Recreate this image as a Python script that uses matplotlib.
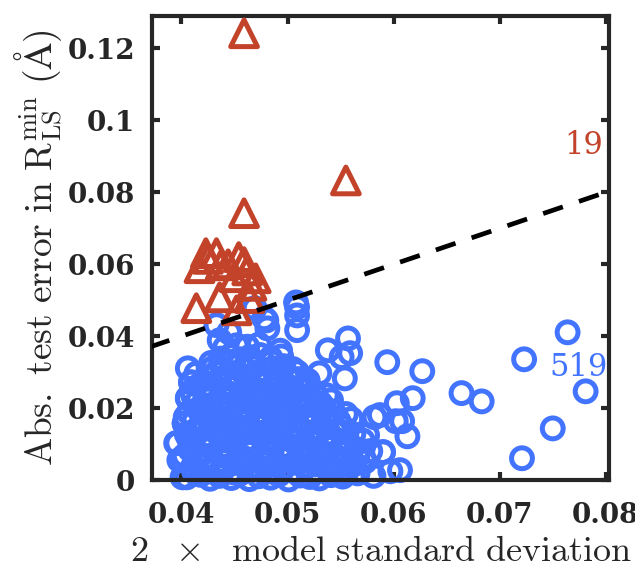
import matplotlib
matplotlib.use('Agg')
import matplotlib.pyplot as plt
from matplotlib.ticker import FuncFormatter

plt.rcParams['mathtext.fontset'] = 'cm'
plt.rcParams['font.family'] = 'serif'

# red triangles: above the line (19 points)
tri_x = [0.0459, 0.0555, 0.0459, 0.0423, 0.0433, 0.0417, 0.0454, 0.0459, 0.0437,
         0.0462, 0.0470, 0.0450, 0.0436, 0.0414, 0.0452, 0.0464, 0.0444, 0.0466,
         0.0425]
tri_y = [0.1242, 0.0833, 0.0742, 0.0631, 0.0631, 0.0589, 0.0620, 0.0606, 0.0597,
         0.0583, 0.0561, 0.0564, 0.0508, 0.0478, 0.0472, 0.0506, 0.0600, 0.0540,
         0.0615]

# blue circles: below the line (519 points in the original)
circ_x = [
    # outliers
    0.0764, 0.0723, 0.0781, 0.0750, 0.0721, 0.0664, 0.0683, 0.0627, 0.0594, 0.0618,
    0.0603, 0.0608, 0.0613, 0.0606, 0.0590, 0.0587, 0.0509, 0.0509, 0.0509, 0.0538,
    0.0557, 0.0551, 0.0559, 0.0554, 0.0530, 0.0537, 0.0433, 0.0445, 0.0406, 0.0409,
    0.0480, 0.0481, 0.0469, 0.0436, 0.0582, 0.0602, 0.0575, 0.0567, 0.0555, 0.0563,
    0.0406, 0.0403, 0.0395, 0.0398, 0.0401, 0.0508, 0.0478, 0.0493,
    # dense cloud
    0.0405, 0.0418, 0.0427, 0.0436, 0.0447, 0.0455, 0.0464, 0.0473, 0.0484, 0.0492,
    0.0501, 0.0512, 0.0521, 0.0530, 0.0541, 0.0552, 0.0566, 0.0581, 0.0597,
    0.0411, 0.0422, 0.0433, 0.0441, 0.0451, 0.0460, 0.0469, 0.0479, 0.0488, 0.0497,
    0.0507, 0.0517, 0.0526, 0.0536, 0.0546, 0.0558, 0.0573, 0.0590,
    0.0403, 0.0415, 0.0426, 0.0437, 0.0445, 0.0456, 0.0465, 0.0476, 0.0485, 0.0494,
    0.0503, 0.0514, 0.0523, 0.0533, 0.0543, 0.0554, 0.0566, 0.0578,
    0.0396, 0.0409, 0.0420, 0.0430, 0.0440, 0.0449, 0.0459, 0.0468, 0.0478, 0.0487,
    0.0497, 0.0506, 0.0516, 0.0525, 0.0535, 0.0546, 0.0557, 0.0571,
    0.0405, 0.0414, 0.0424, 0.0434, 0.0443, 0.0453, 0.0462, 0.0472, 0.0481, 0.0491,
    0.0500, 0.0510, 0.0520, 0.0529, 0.0539, 0.0550, 0.0562,
    0.0403, 0.0412, 0.0422, 0.0431, 0.0441, 0.0450, 0.0460, 0.0469, 0.0479, 0.0488,
    0.0498, 0.0507, 0.0517, 0.0527, 0.0537, 0.0548, 0.0560,
    0.0407, 0.0417, 0.0427, 0.0436, 0.0446, 0.0455, 0.0465, 0.0474, 0.0484, 0.0493,
    0.0503, 0.0512, 0.0522, 0.0532, 0.0543, 0.0555,
    0.0406, 0.0415, 0.0425, 0.0434, 0.0444, 0.0453, 0.0463, 0.0472, 0.0482, 0.0491,
    0.0501, 0.0510, 0.0520, 0.0531, 0.0541,
    0.0410, 0.0420, 0.0429, 0.0439, 0.0448, 0.0458, 0.0467, 0.0477, 0.0486, 0.0496,
    0.0505, 0.0515, 0.0525,
    0.0409, 0.0425, 0.0435, 0.0444, 0.0453, 0.0462, 0.0472, 0.0481, 0.0491, 0.0500,
    0.0510, 0.0519,
    0.0430, 0.0440, 0.0449, 0.0458, 0.0467, 0.0477, 0.0486, 0.0496, 0.0505,
    0.0437, 0.0446, 0.0455, 0.0464, 0.0474, 0.0484, 0.0494,
    0.0441, 0.0452, 0.0462, 0.0473,
    # extra cloud points in between rows
    0.0412, 0.0431, 0.0450, 0.0468, 0.0487, 0.0505, 0.0524, 0.0544,
    0.0408, 0.0428, 0.0446, 0.0465, 0.0483, 0.0502, 0.0521, 0.0540,
    0.0416, 0.0435, 0.0454, 0.0473, 0.0492, 0.0511, 0.0530, 0.0551,
    0.0419, 0.0438, 0.0457, 0.0476, 0.0495, 0.0514, 0.0534,
    0.0423, 0.0442, 0.0461, 0.0480, 0.0499, 0.0518,
    0.0401, 0.0421, 0.0440, 0.0459, 0.0478, 0.0497, 0.0516, 0.0535, 0.0556,
    0.0407, 0.0426, 0.0445, 0.0464, 0.0483, 0.0502, 0.0521, 0.0541,
    0.0404, 0.0424, 0.0443, 0.0462, 0.0481, 0.0500, 0.0519, 0.0538,
    0.0411, 0.0430, 0.0449, 0.0468, 0.0487, 0.0506, 0.0526,
    0.0414, 0.0433, 0.0452, 0.0471, 0.0490, 0.0509,
    0.0428, 0.0447, 0.0466, 0.0485,
]
circ_y = [
    # outliers
    0.0411, 0.0336, 0.0247, 0.0144, 0.0061, 0.0242, 0.0219, 0.0303, 0.0328, 0.0228,
    0.0214, 0.0164, 0.0122, 0.0028, 0.0078, 0.0181, 0.0481, 0.0458, 0.0417, 0.0361,
    0.0394, 0.0342, 0.0353, 0.0283, 0.0297, 0.0236, 0.0431, 0.0411, 0.0311, 0.0272,
    0.0444, 0.0422, 0.0478, 0.0389, 0.0175, 0.0164, 0.0125, 0.0085, 0.0020, 0.0045,
    0.0228, 0.0158, 0.0103, 0.0056, 0.0008, 0.0494, 0.0450, 0.0360,
    # dense cloud
    0.0008, 0.0015, 0.0004, 0.0012, 0.0006, 0.0018, 0.0003, 0.0011, 0.0007, 0.0016,
    0.0002, 0.0013, 0.0009, 0.0005, 0.0014, 0.0010, 0.0019, 0.0012, 0.0025,
    0.0038, 0.0045, 0.0041, 0.0036, 0.0048, 0.0043, 0.0039, 0.0046, 0.0042, 0.0037,
    0.0049, 0.0040, 0.0044, 0.0038, 0.0047, 0.0041, 0.0052, 0.0078,
    0.0068, 0.0074, 0.0065, 0.0079, 0.0071, 0.0066, 0.0077, 0.0069, 0.0075, 0.0064,
    0.0072, 0.0078, 0.0067, 0.0073, 0.0070, 0.0076, 0.0068, 0.0081,
    0.0103, 0.0098, 0.0107, 0.0101, 0.0095, 0.0109, 0.0102, 0.0097, 0.0106, 0.0100,
    0.0094, 0.0108, 0.0099, 0.0104, 0.0096, 0.0105, 0.0101, 0.0110,
    0.0128, 0.0134, 0.0125, 0.0131, 0.0137, 0.0127, 0.0133, 0.0129, 0.0136, 0.0126,
    0.0132, 0.0138, 0.0127, 0.0133, 0.0130, 0.0135, 0.0128,
    0.0158, 0.0164, 0.0155, 0.0161, 0.0167, 0.0157, 0.0163, 0.0159, 0.0166, 0.0156,
    0.0162, 0.0168, 0.0157, 0.0163, 0.0160, 0.0165, 0.0170,
    0.0188, 0.0194, 0.0185, 0.0191, 0.0197, 0.0187, 0.0193, 0.0189, 0.0196, 0.0186,
    0.0192, 0.0198, 0.0187, 0.0193, 0.0190, 0.0184,
    0.0228, 0.0218, 0.0224, 0.0215, 0.0226, 0.0221, 0.0217, 0.0227, 0.0219, 0.0225,
    0.0216, 0.0223, 0.0220, 0.0214, 0.0222,
    0.0248, 0.0254, 0.0245, 0.0251, 0.0257, 0.0247, 0.0253, 0.0249, 0.0256, 0.0246,
    0.0252, 0.0258, 0.0244,
    0.0272, 0.0285, 0.0278, 0.0284, 0.0276, 0.0287, 0.0279, 0.0283, 0.0275, 0.0286,
    0.0281, 0.0277,
    0.0312, 0.0305, 0.0316, 0.0308, 0.0314, 0.0306, 0.0311, 0.0317, 0.0309,
    0.0338, 0.0345, 0.0336, 0.0342, 0.0348, 0.0339, 0.0344,
    0.0368, 0.0375, 0.0371, 0.0377,
    # extra cloud points in between rows
    0.0024, 0.0027, 0.0021, 0.0029, 0.0023, 0.0026, 0.0022, 0.0028,
    0.0086, 0.0089, 0.0083, 0.0091, 0.0085, 0.0088, 0.0084, 0.0090,
    0.0145, 0.0148, 0.0142, 0.0150, 0.0144, 0.0147, 0.0143, 0.0149,
    0.0205, 0.0208, 0.0202, 0.0210, 0.0204, 0.0207, 0.0203,
    0.0265, 0.0268, 0.0262, 0.0270, 0.0264, 0.0267,
    0.0055, 0.0058, 0.0053, 0.0057, 0.0054, 0.0059, 0.0056, 0.0052, 0.0058,
    0.0116, 0.0113, 0.0118, 0.0115, 0.0112, 0.0117, 0.0114, 0.0119,
    0.0175, 0.0178, 0.0173, 0.0177, 0.0174, 0.0179, 0.0176, 0.0172,
    0.0236, 0.0239, 0.0234, 0.0238, 0.0235, 0.0240, 0.0237,
    0.0296, 0.0299, 0.0294, 0.0298, 0.0295, 0.0300,
    0.0326, 0.0329, 0.0324, 0.0328,
]

line_x = [0.037, 0.0805]
xticks = [0.04, 0.05, 0.06, 0.07, 0.08]
yticks = [0, 0.02, 0.04, 0.06, 0.08, 0.1, 0.12]
n_above = 19
n_below = 519

blue = '#4274FF'
red = '#C2432A'

fig = plt.figure(figsize=(6.35, 5.71), dpi=100)
ax = fig.add_axes([0.239, 0.159, 0.72, 0.813])

ax.scatter(circ_x, circ_y, s=225, facecolors='none', edgecolors=blue,
           linewidths=3.6, zorder=2, clip_on=False)
ax.scatter(tri_x, tri_y, s=370, marker='^', facecolors='none', edgecolors=red,
           linewidths=3.6, zorder=3)
ax.plot(line_x, line_x, color='black', lw=3.4, dashes=(4.4, 3.6), zorder=4)

ax.text(0.0797, 0.093, str(n_above), color=red, fontsize=22, ha='right', va='center')
ax.text(0.0802, 0.0312, str(n_below), color=blue, fontsize=22, ha='right', va='center')

ax.set_xlim(0.0372, 0.0803)
ax.set_ylim(0, 0.129)
ax.set_xticks(xticks)
ax.set_yticks(yticks)
ax.xaxis.set_major_formatter(FuncFormatter(lambda v, p: '%g' % v))
ax.yaxis.set_major_formatter(FuncFormatter(lambda v, p: '%g' % v))
ax.tick_params(direction='in', top=True, right=True, length=6, width=3,
               color='#262626', labelsize=20, labelcolor='#262626')
ax.tick_params(axis='x', pad=16)
ax.tick_params(axis='y', pad=12)
for lab in ax.get_xticklabels() + ax.get_yticklabels():
    lab.set_fontfamily('DejaVu Serif')
    lab.set_fontweight('bold')
for sp in ax.spines.values():
    sp.set_linewidth(3)
    sp.set_color('#262626')

ax.set_xlabel(r'$2\ \ \times\ \ \mathrm{model\ standard\ deviation}$', fontsize=26,
              color='#262626', labelpad=3)
ax.set_ylabel(r'$\mathrm{Abs.\ test\ error\ in\ R_{LS}^{min}\ (\AA)}$', fontsize=27,
              color='#262626', labelpad=2)

fig.savefig('out.png', dpi=100)
